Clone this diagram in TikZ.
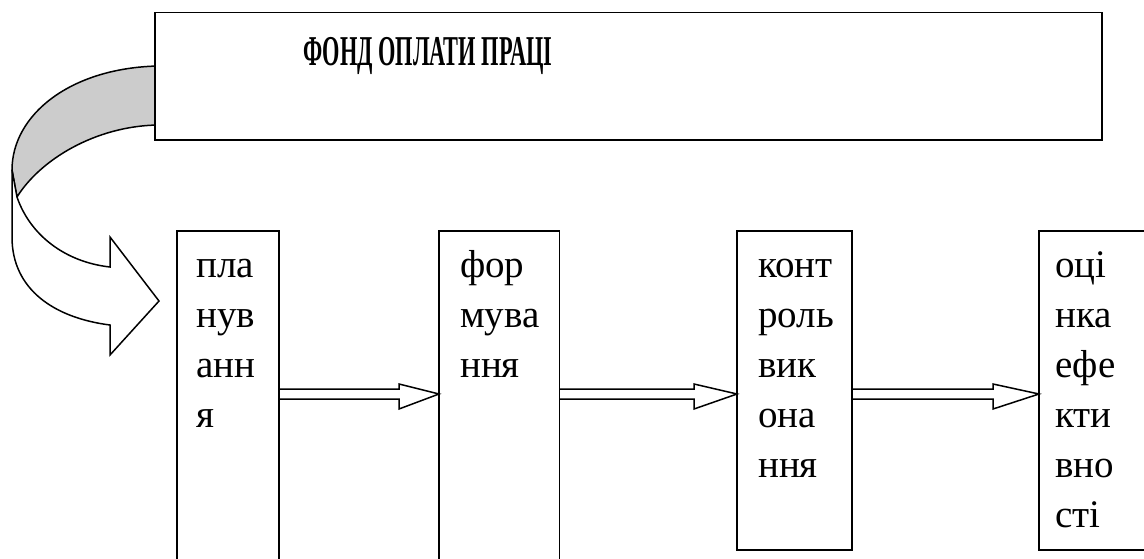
\documentclass[tikz,border=0pt]{standalone}
\usepackage{fontspec}
\setmainfont{Liberation Serif}
\usetikzlibrary{calc}

\tikzset{
  frame/.style={draw, line width=1.6pt, fill=white, inner sep=0pt, outer sep=0pt, anchor=north west},
  stage/.style={inner sep=0pt, anchor=north west, align=left,
                font=\fontsize{39}{50}\selectfont},
  ribbon/.style={draw, line width=1.5pt, line join=miter},
  blockarrow/.style={draw, line width=1.5pt, line join=miter},
}

% block arrow from the right side of #1 to the left side of #2, head length #3
\newcommand{\stagearrow}[3]{%
  \draw[blockarrow] ($(#1.east |- lvl)+(0,5)$) -- ($(#2.west |- lvl)+(-#3,5)$)
     -- ++(0,10) -- (#2.west |- lvl) -- ($(#2.west |- lvl)+(-#3,-10)$)
     -- ++(0,5) -- ($(#1.east |- lvl)+(0,-5)$);%
}

\begin{document}
\begin{tikzpicture}[x=1pt, y=-1pt]
  \useasboundingbox (0,0) rectangle (1144,558);
  \clip (0,0) rectangle (1144,558);

  % grey back side of the curved arrow
  \path[ribbon, fill=black!20] (158,66) .. controls (70,68) and (12,115) .. (12,170)
     -- (17,197) .. controls (40,160) and (95,126) .. (158,125) -- cycle;
  % white front side with the head
  \path[ribbon, fill=white] (12,170) -- (12,237) .. controls (12,290) and (55,318) .. (110,325)
     -- (110,355) -- (159,301) -- (110,237) -- (110,267)
     .. controls (65,262) and (30,235) .. (17,197) -- cycle;

  % heading box
  \node[frame, minimum width=947pt, minimum height=127.5pt] (fond) at (155,12.5) {};
  \node[inner sep=0pt, anchor=base west, font=\fontsize{34}{40}\selectfont\bfseries]
    (title) at (303,65) {\resizebox{249pt}{1.25\height}{ФОНД ОПЛАТИ ПРАЦІ}};

  % stage boxes
  \node[frame, minimum width=102pt, minimum height=340pt] (plan) at (177,231) {};
  \node[frame, minimum width=120.5pt, minimum height=340pt] (form) at (439,231) {};
  \node[frame, minimum width=115pt, minimum height=319pt] (ctrl) at (737,231) {};
  \node[frame, minimum width=130pt, minimum height=319pt] (eval) at (1039,231) {};

  \node[stage] (plant) at ($(plan.north west)+(19,11)$) {\strut пла\\нув\\анн\\я};
  \node[stage] (formt) at ($(form.north west)+(21,11)$) {\strut фор\\мува\\ння};
  \node[stage] (ctrlt) at ($(ctrl.north west)+(21,11)$) {\strut конт\\роль\\вик\\она\\ння};
  \node[stage] (evalt) at ($(eval.north west)+(16,11)$) {\strut оці\\нка\\ефе\\кти\\вно\\сті};

  % connectors between the stages
  \coordinate (lvl) at (0,394);
  \stagearrow{plan}{form}{40}
  \stagearrow{form}{ctrl}{43}
  \stagearrow{ctrl}{eval}{46}
\end{tikzpicture}
\end{document}
